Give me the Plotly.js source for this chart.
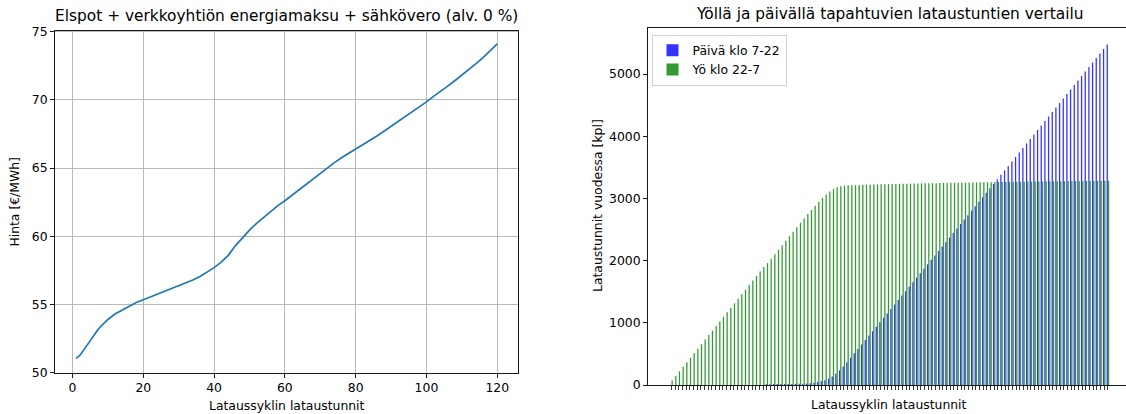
<!DOCTYPE html>
<html>
<head>
<meta charset="utf-8">
<script src="https://cdn.plot.ly/plotly-3.0.1.min.js"></script>
<style>
  html, body { margin: 0; padding: 0; background: #fff; }
  #chart { width: 1126px; height: 414px; }
</style>
</head>
<body>
<div id="chart"></div>
<script>
// ---- Left chart: price curve ----
const priceHours = [1,2,3,4,5,6,7,8,10,12,14,16,18,20,22,24,26,28,30,32,34,36,38,40,42,44,46,48,50,52,54,56,58,60,62,64,66,68,70,72,74,76,78,80,82,84,86,88,90,92,94,96,98,100,102,104,106,108,110,112,114,116,118,120];
const priceValues = [51.05,51.25,51.6,52.0,52.4,52.8,53.1,53.4,53.9,54.3,54.6,54.9,55.15,55.35,55.55,55.75,55.95,56.15,56.35,56.55,56.8,57.05,57.35,57.7,58.1,58.6,59.3,59.9,60.45,60.95,61.4,61.85,62.25,62.6,63.0,63.45,63.85,64.25,64.65,65.05,65.4,65.75,66.1,66.4,66.7,67.0,67.35,67.7,68.05,68.4,68.75,69.1,69.45,69.85,70.25,70.6,71.0,71.4,71.8,72.2,72.65,73.1,73.6,74.1];

// ---- Right chart: day vs night charging hours ----
const cycleHours = [1,2,3,4,5,6,7,8,9,10,11,12,13,14,15,16,17,18,19,20,21,22,23,24,25,26,27,28,29,30,31,32,33,34,35,36,37,38,39,40,41,42,43,44,45,46,47,48,49,50,51,52,53,54,55,56,57,58,59,60,61,62,63,64,65,66,67,68,69,70,71,72,73,74,75,76,77,78,79,80,81,82,83,84,85,86,87,88,89,90,91,92,93,94,95,96,97,98,99,100,101,102,103,104,105,106,107,108,109,110,111,112,113,114,115,116,117,118,119,120];
const dayHours = [0,0,0,0,0,0,0,0,0,0,0,0,0,0,0,0,0,0,0,0,0,0,0,0,0,0,
  12,14,15,15,16,16,17,18,18,20,22,25,30,38,48,60,75,102,135,180,235,299,367,438,
  509,580,651,722,794,865,937,1008,1080,1151,1223,1294,1366,1438,1509,1581,1653,1725,1796,1868,
  1940,2012,2084,2155,2227,2299,2371,2443,2515,2587,2659,2731,2803,2875,2947,3019,3091,3163,3235,3307,
  3379,3451,3523,3595,3667,3740,3812,3884,3956,4028,4101,4173,4245,4317,4390,4462,4534,4606,4679,4751,
  4823,4896,4968,5040,5113,5185,5258,5330,5403,5475];
const nightHours = [73,146,219,292,365,438,511,584,657,730,803,876,949,1022,1095,1168,1241,1314,1387,1460,1533,1606,1679,1752,1825,1898,
  1959,2030,2102,2175,2247,2320,2392,2464,2537,2608,2679,2749,2817,2882,2945,3006,3064,3110,3150,3178,3196,3205,3210,3212,
  3214,3216,3218,3220,3221,3223,3224,3226,3227,3229,3230,3232,3233,3234,3236,3237,3238,3239,3241,3242,
  3243,3244,3245,3247,3248,3249,3250,3251,3252,3253,3254,3255,3256,3257,3258,3259,3260,3261,3262,3263,
  3264,3265,3266,3267,3268,3268,3269,3270,3271,3272,3272,3273,3274,3275,3275,3276,3277,3278,3278,3279,
  3280,3280,3281,3282,3282,3283,3283,3284,3284,3285];

const leftTicksX = [0,20,40,60,80,100,120];
const leftTicksY = [50,55,60,65,70,75];
const rightTicksY = [0,1000,2000,3000,4000,5000];

const FONT = 'DejaVu Sans';
const SMALL = 12.4;
const LARGE = 15.4;
const TICKF = {family: FONT, size: SMALL, color: '#000'};

const traces = [
  {
    x: priceHours, y: priceValues, type: 'scatter', mode: 'lines',
    line: {color: '#1f77b4', width: 1.7}, xaxis: 'x', yaxis: 'y', showlegend: false,
    hoverinfo: 'skip'
  },
  {
    x: cycleHours, y: dayHours, type: 'bar', name: 'Päivä klo 7-22',
    marker: {color: 'rgba(0,0,255,0.8)', line: {width: 0}},
    xaxis: 'x2', yaxis: 'y2'
  },
  {
    x: cycleHours, y: nightHours, type: 'bar', name: 'Yö klo 22-7',
    marker: {color: 'rgba(0,128,0,0.8)', line: {width: 0}},
    xaxis: 'x2', yaxis: 'y2'
  }
];

const layout = {
  width: 1126, height: 414,
  margin: {l: 0, r: 0, t: 0, b: 0},
  paper_bgcolor: '#fff', plot_bgcolor: '#fff',
  font: {family: FONT, size: SMALL, color: '#000'},
  barmode: 'group', bargap: 0.3, bargroupgap: 0,
  xaxis: {
    domain: [55/1126, 518.3/1126], range: [-4.95, 125.95],
    tickmode: 'array', tickvals: leftTicksX, ticks: 'outside', ticklen: 4, tickwidth: 0.9, tickcolor: '#000',
    showgrid: true, gridcolor: '#b0b0b0', gridwidth: 0.9,
    showline: true, linecolor: '#000', linewidth: 0.9, mirror: true,
    zeroline: false, tickfont: TICKF, anchor: 'y'
  },
  yaxis: {
    domain: [(414-372.7)/414, (414-30.5)/414], range: [50, 75.08],
    tickmode: 'array', tickvals: leftTicksY, ticks: 'outside', ticklen: 4, tickwidth: 0.9, tickcolor: '#000',
    showgrid: true, gridcolor: '#b0b0b0', gridwidth: 0.9,
    showline: true, linecolor: '#000', linewidth: 0.9, mirror: true,
    zeroline: false, tickfont: TICKF, anchor: 'x'
  },
  xaxis2: {
    domain: [648/1126, 1], range: [-5.41, 124.94],
    tickmode: 'array', tickvals: cycleHours, ticks: 'outside', ticklen: 4, tickwidth: 0.9, tickcolor: '#222',
    showticklabels: false, showgrid: false,
    showline: true, linecolor: '#000', linewidth: 0.9, mirror: true,
    zeroline: false, anchor: 'y2'
  },
  yaxis2: {
    domain: [(414-385)/414, (414-28)/414], range: [0, 5740],
    tickmode: 'array', tickvals: rightTicksY, ticks: 'outside', ticklen: 4, tickwidth: 0.9, tickcolor: '#000',
    showgrid: false, showline: true, linecolor: '#000', linewidth: 0.9, mirror: false,
    zeroline: false, tickfont: TICKF, anchor: 'x2'
  },
  legend: {
    x: 651.5/1126, y: (414-34.8)/414, xanchor: 'left', yanchor: 'top',
    bgcolor: 'rgba(255,255,255,0.8)', bordercolor: '#d0d0d0', borderwidth: 1,
    font: {family: FONT, size: SMALL, color: '#000'}, traceorder: 'normal', itemwidth: 30,
    tracegroupgap: 0
  },
  annotations: [
    {text: 'Elspot + verkkoyhtiön energiamaksu + sähkövero (alv. 0 %)', xref: 'paper', yref: 'paper',
     x: 286.6/1126, y: (414-16)/414, xanchor: 'center', yanchor: 'middle', showarrow: false,
     font: {family: FONT, size: LARGE, color: '#000'}},
    {text: 'Yöllä ja päivällä tapahtuvien lataustuntien vertailu', xref: 'paper', yref: 'paper',
     x: 889/1126, y: (414-14)/414, xanchor: 'center', yanchor: 'middle', showarrow: false,
     font: {family: FONT, size: LARGE, color: '#000'}},
    {text: 'Lataussyklin lataustunnit', xref: 'paper', yref: 'paper',
     x: 286.6/1126, y: (414-405)/414, xanchor: 'center', yanchor: 'middle', showarrow: false,
     font: {family: FONT, size: SMALL, color: '#000'}},
    {text: 'Hinta [€/MWh]', xref: 'paper', yref: 'paper', textangle: -90,
     x: 15/1126, y: (414-201.6)/414, xanchor: 'center', yanchor: 'middle', showarrow: false,
     font: {family: FONT, size: SMALL, color: '#000'}},
    {text: 'Lataussyklin lataustunnit', xref: 'paper', yref: 'paper',
     x: 889/1126, y: (414-404)/414, xanchor: 'center', yanchor: 'middle', showarrow: false,
     font: {family: FONT, size: SMALL, color: '#000'}},
    {text: 'Lataustunnit vuodessa [kpl]', xref: 'paper', yref: 'paper', textangle: -90,
     x: 597/1126, y: (414-206)/414, xanchor: 'center', yanchor: 'middle', showarrow: false,
     font: {family: FONT, size: SMALL, color: '#000'}}
  ]
};

Plotly.newPlot('chart', traces, layout, {staticPlot: true, displayModeBar: false});
</script>
</body>
</html>
